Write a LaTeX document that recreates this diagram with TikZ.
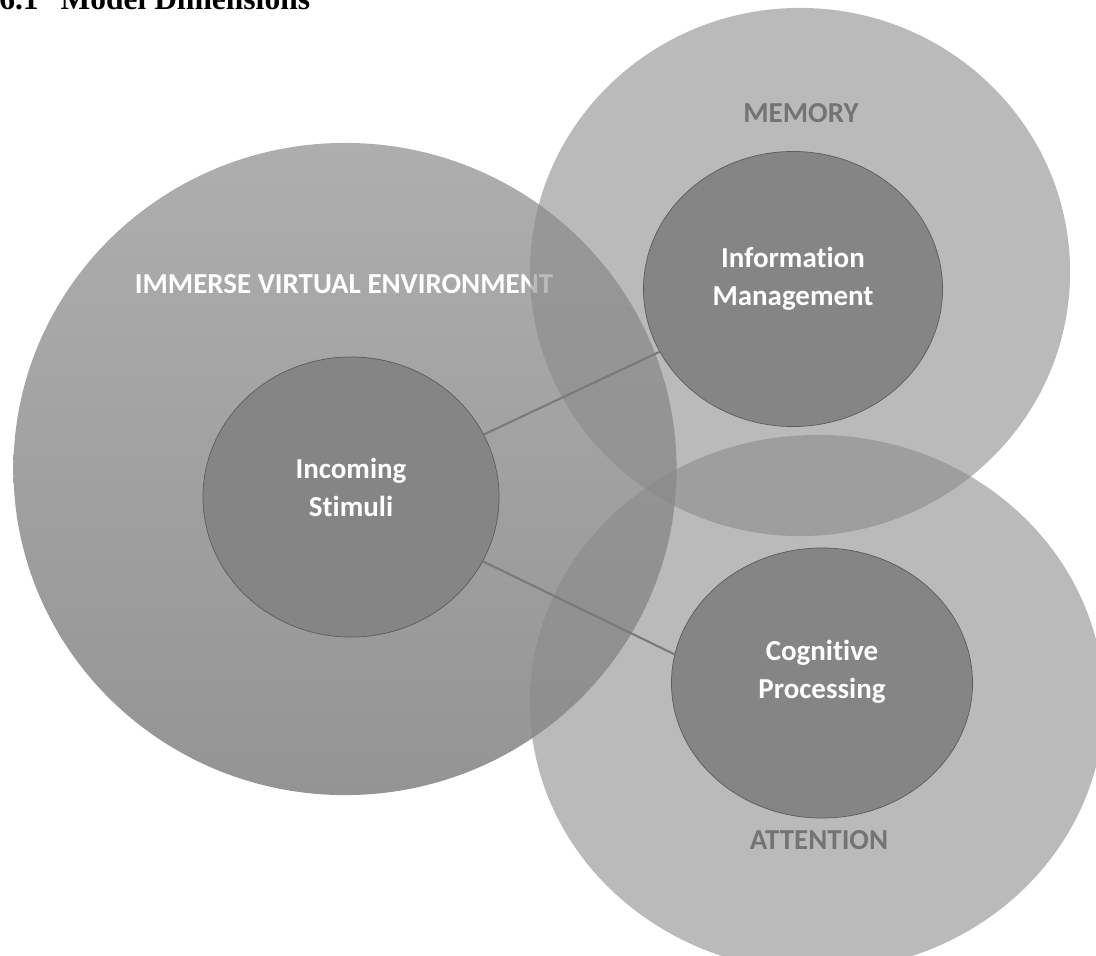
\documentclass[tikz,border=0pt]{standalone}
\usepackage{fontspec}
\setmainfont{Carlito}[Ligatures={NoCommon}]
\newfontfamily\titlefont{Liberation Serif}
\usetikzlibrary{shapes.geometric}
\usepackage{xcolor}

\definecolor{envtop}{RGB}{174,174,174}
\definecolor{envbottom}{RGB}{148,148,148}
\definecolor{ringfill}{RGB}{138,138,138}
\definecolor{corefill}{RGB}{133,133,133}
\definecolor{coreline}{RGB}{92,92,92}
\definecolor{linkgray}{RGB}{122,122,122}
\definecolor{ringtext}{RGB}{116,116,116}

\begin{document}
\begin{tikzpicture}[x=0.025cm, y=-0.025cm]
        % ================= 样式定义 =================
        \tikzset{
            % 大圆 (环境)
            envnode/.style={ellipse, draw=none, inner sep=0pt, top color=envtop, bottom color=envbottom},
            % 半透明大圆 (记忆 / 注意)
            ringnode/.style={ellipse, draw=none, inner sep=0pt, fill=ringfill, fill opacity=0.59},
            % 内圈节点
            corenode/.style={ellipse, draw=coreline, line width=0.5pt, fill=corefill, inner sep=0pt,
                minimum width=7.45cm, minimum height=6.95cm},
            % 文字
            coretext/.style={text=white, align=center, font=\bfseries\fontsize{20.6}{27}\selectfont},
            ringlabel/.style={text=ringtext, font=\bfseries\fontsize{20.6}{25}\selectfont},
            % 连线
            link/.style={draw=linkgray, line width=1.5pt}
        }

        \useasboundingbox (0,0) rectangle (1096,955);

        % ================= 标题 (被裁掉一半) =================
        \node[anchor=base west, inner sep=0pt, font=\titlefont\bfseries\fontsize{22.4}{26}\selectfont]
            (title) at (-1,9) {6.1\hspace{0.55cm}Model Dimensions};

        % ================= 1. 左:虚拟环境 =================
        \node[envnode, minimum width=16.575cm, minimum height=16.3cm] (ive) at (345,469) {};
        \node[text=white, font=\bfseries\fontsize{20.6}{25}\selectfont] (ivelabel) at (344,284)
            {IMMERSE VIRTUAL ENVIRONMENT};

        % ================= 2. 右上 / 右下:记忆与注意 =================
        \node[ringnode, minimum width=13.5cm, minimum height=13.2cm] (mem) at (800,272) {};
        \node[ringnode, minimum width=14.35cm, minimum height=13.4cm] (att) at (817,703) {};

        \node[ringlabel] (memlabel) at (801,113) {MEMORY};
        \node[ringlabel] (attlabel) at (819,840) {ATTENTION};

        % ================= 3. 内圈节点 =================
        \node[corenode, minimum width=7.4cm, minimum height=7.0cm] (stim) at (351,497) {};
        \node[corenode, minimum width=7.475cm, minimum height=6.875cm] (info) at (793,289) {};
        \node[corenode, minimum width=7.525cm, minimum height=6.75cm] (cog) at (822,683) {};

        % 连线
        \draw[link] (stim) -- (info);
        \draw[link] (stim.-26) -- (cog.169);

        % 文字
        \node[coretext] (stimtext) at (351,487) {Incoming\\Stimuli};
        \node[coretext] (infotext) at (793,279) {Information\\Management};
        \node[coretext] (cogtext) at (822,672) {Cognitive\\Processing};

\end{tikzpicture}
\end{document}
